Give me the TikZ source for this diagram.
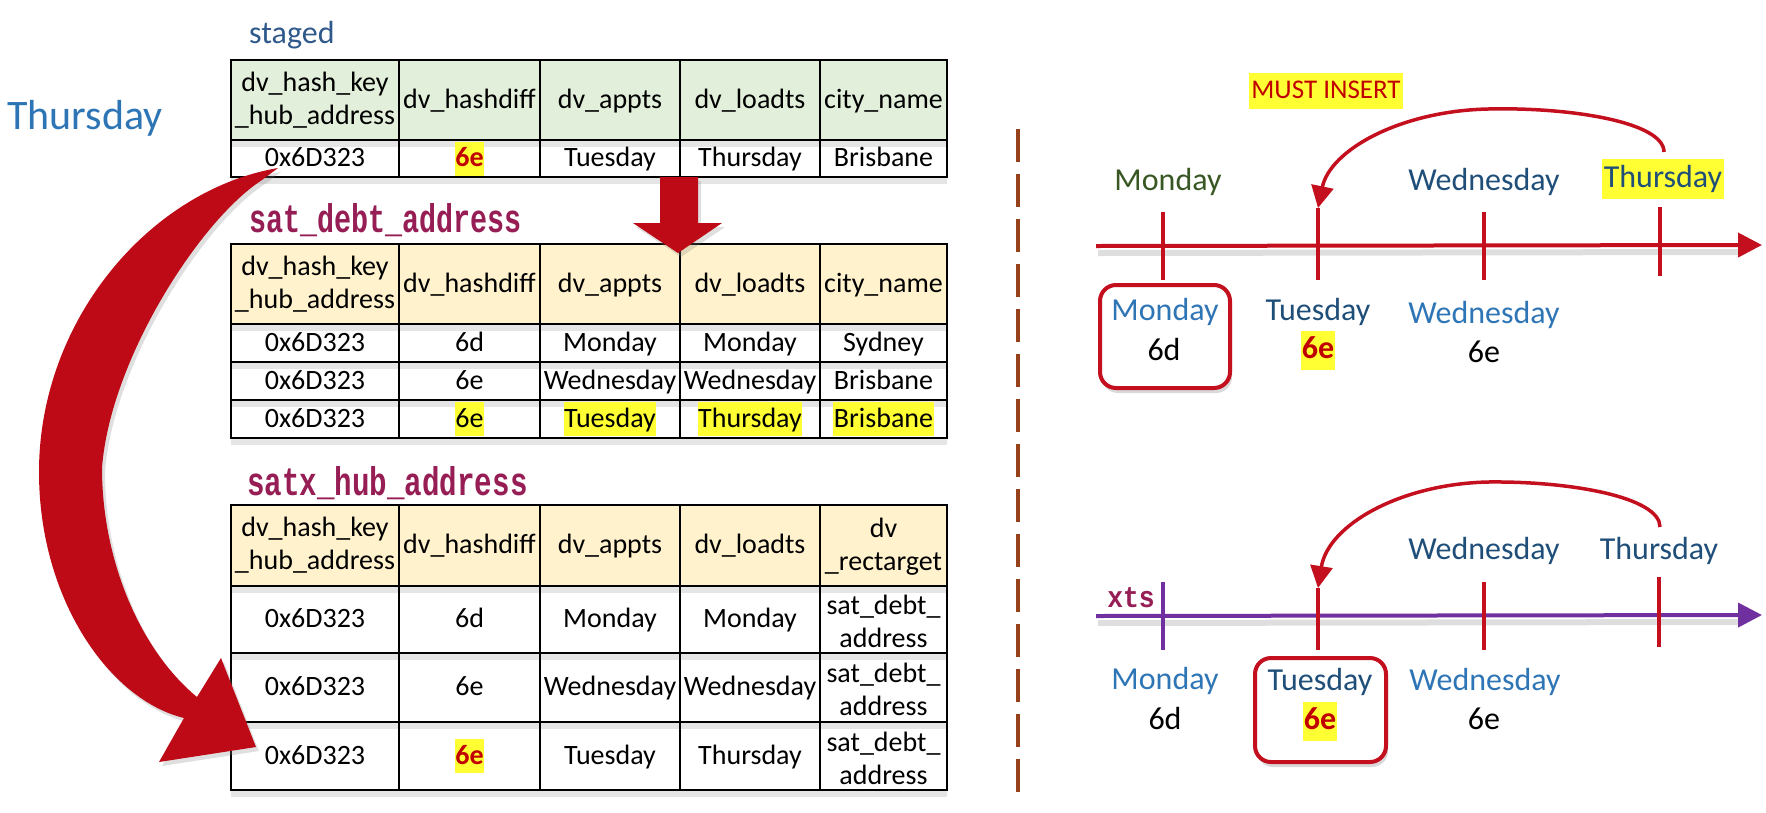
\documentclass[tikz,border=0pt]{standalone}
\usepackage{fontspec}
\usepackage{graphicx}
\setmainfont{Carlito}
\newfontfamily\twfont{Liberation Mono}
\usetikzlibrary{arrows.meta,shadows}
\definecolor{arrowred}{RGB}{190,10,22}
\definecolor{linered}{RGB}{195,15,30}
\definecolor{txtred}{RGB}{192,0,0}
\definecolor{hl}{RGB}{255,255,51}
\definecolor{greenfill}{RGB}{226,239,218}
\definecolor{goldfill}{RGB}{255,242,204}
\definecolor{titlemaroon}{RGB}{150,30,85}
\definecolor{stagedblue}{RGB}{46,89,138}
\definecolor{midblue}{RGB}{46,117,182}
\definecolor{darkblue}{RGB}{31,78,121}
\definecolor{olivegreen}{RGB}{56,87,35}
\definecolor{purp}{RGB}{112,48,160}
\definecolor{dashbrown}{RGB}{150,65,25}
\newcommand\myfs[2]{\fontsize{#1}{#2}\selectfont}
\tikzset{
  grid/.style={line width=2.5pt, black, line cap=rect},
  rowshadow/.style={black, opacity=0.10, line width=6pt},
  lineshadow/.style={black, opacity=0.13, line width=6pt},
  cell/.style={inner sep=0pt, font=\myfs{28}{33}, text height=19pt, text depth=3pt},
  cellii/.style={inner sep=0pt, font=\myfs{28}{33}, align=center},
  hlcell/.style={cell, fill=hl, inner xsep=0.5pt, text height=25pt, text depth=9pt},
  hlred/.style={hlcell, font=\bfseries\myfs{28}{33}, text=txtred},
  ttl/.style={anchor=base west, inner sep=0pt, text=titlemaroon, font=\twfont\bfseries\myfs{40}{40}},
  tl/.style={inner sep=0pt, font=\myfs{32}{38}, text height=23pt, text depth=8pt},
  tlhl/.style={tl, fill=hl, inner xsep=1.5pt, text height=28pt, text depth=12pt},
  tlred/.style={tl, fill=hl, inner xsep=1pt, font=\bfseries\myfs{32}{38}, text=txtred, text height=28pt, text depth=11pt},
  axis/.style={line width=4pt, -{Triangle[length=24pt,width=24pt]}},
  tick/.style={line width=4pt},
  curvearrow/.style={linered, line width=3.5pt, -{Triangle[length=22pt,width=22pt]}},
  rbox/.style={draw=linered, line width=4pt, rounded corners=16pt, fill=white, inner sep=0pt,
     drop shadow={opacity=0.3, shadow xshift=2pt, shadow yshift=-5pt}},
  blockshadow/.style={drop shadow={opacity=0.25, shadow xshift=3pt, shadow yshift=-4pt}},
}
\begin{document}
\begin{tikzpicture}[x=1pt,y=-1pt]
\useasboundingbox (0,0) rectangle (1766,812);

% ---------------- left labels
\node[inner sep=0pt, font=\myfs{42}{48}, text=midblue] (thu) at (85,118) {Thursday};
\node[anchor=base west, inner sep=0pt, font=\myfs{32}{38}, text=stagedblue] (stg) at (249,43) {staged};
\node[ttl] (sdt) at (249,232) {\scalebox{0.71}[1]{sat\_debt\_address}};
\node[ttl] (sxt) at (247,495) {\scalebox{0.73}[1]{satx\_hub\_address}};

% ---------------- staged table
\fill[greenfill] (231,60) rectangle (947,140);
\foreach \yy in {140,177} \draw[rowshadow] (231,\yy+4) -- (947,\yy+4);
\foreach \yy in {60,140,177} \draw[grid] (231,\yy) -- (947,\yy);
\foreach \xx in {231,399,540,680,820,947} \draw[grid] (\xx,60) -- (\xx,177);
\node[cellii] (st-h1) at (315,100) {dv\_hash\_key\\\_hub\_address};
\node[cell] (st-h2) at (469.5,100) {dv\_hashdiff};
\node[cell] (st-h3) at (610,100) {dv\_appts};
\node[cell] (st-h4) at (750,100) {dv\_loadts};
\node[cell] (st-h5) at (883.5,100) {city\_name};
\node[cell] (st-r1) at (315,158.5) {0x6D323};
\node[hlred] (st-r2) at (469.5,158.5) {6e};
\node[cell] (st-r3) at (610,158.5) {Tuesday};
\node[cell] (st-r4) at (750,158.5) {Thursday};
\node[cell] (st-r5) at (883.5,158.5) {Brisbane};

% ---------------- sat_debt_address table
\fill[goldfill] (231,244) rectangle (947,324);
\foreach \yy in {324,362,400,438} \draw[rowshadow] (231,\yy+4) -- (947,\yy+4);
\foreach \yy in {244,324,362,400,438} \draw[grid] (231,\yy) -- (947,\yy);
\foreach \xx in {231,399,540,680,820,947} \draw[grid] (\xx,244) -- (\xx,438);
\node[cellii] (sd-h1) at (315,284) {dv\_hash\_key\\\_hub\_address};
\node[cell] (sd-h2) at (469.5,284) {dv\_hashdiff};
\node[cell] (sd-h3) at (610,284) {dv\_appts};
\node[cell] (sd-h4) at (750,284) {dv\_loadts};
\node[cell] (sd-h5) at (883.5,284) {city\_name};
\node[cell] (sd-a1) at (315,343) {0x6D323};
\node[cell] (sd-a2) at (469.5,343) {6d};
\node[cell] (sd-a3) at (610,343) {Monday};
\node[cell] (sd-a4) at (750,343) {Monday};
\node[cell] (sd-a5) at (883.5,343) {Sydney};
\node[cell] (sd-b1) at (315,381) {0x6D323};
\node[cell] (sd-b2) at (469.5,381) {6e};
\node[cell] (sd-b3) at (610,381) {Wednesday};
\node[cell] (sd-b4) at (750,381) {Wednesday};
\node[cell] (sd-b5) at (883.5,381) {Brisbane};
\node[cell] (sd-c1) at (315,419) {0x6D323};
\node[hlcell] (sd-c2) at (469.5,419) {6e};
\node[hlcell] (sd-c3) at (610,419) {Tuesday};
\node[hlcell] (sd-c4) at (750,419) {Thursday};
\node[hlcell] (sd-c5) at (883.5,419) {Brisbane};

% ---------------- satx_hub_address table
\fill[goldfill] (231,505) rectangle (947,586);
\foreach \yy in {586,653,722,790} \draw[rowshadow] (231,\yy+4) -- (947,\yy+4);
\foreach \yy in {505,586,653,722,790} \draw[grid] (231,\yy) -- (947,\yy);
\foreach \xx in {231,399,540,680,820,947} \draw[grid] (\xx,505) -- (\xx,790);
\node[cellii] (sx-h1) at (315,545.5) {dv\_hash\_key\\\_hub\_address};
\node[cell] (sx-h2) at (469.5,545.5) {dv\_hashdiff};
\node[cell] (sx-h3) at (610,545.5) {dv\_appts};
\node[cell] (sx-h4) at (750,545.5) {dv\_loadts};
\node[cellii] (sx-h5) at (883.5,547) {dv\\\_rectarget};
\node[cell] (sx-a1) at (315,619.5) {0x6D323};
\node[cell] (sx-a2) at (469.5,619.5) {6d};
\node[cell] (sx-a3) at (610,619.5) {Monday};
\node[cell] (sx-a4) at (750,619.5) {Monday};
\node[cellii] (sx-a5) at (883.5,621) {sat\_debt\_\\address};
\node[cell] (sx-b1) at (315,687.5) {0x6D323};
\node[cell] (sx-b2) at (469.5,687.5) {6e};
\node[cell] (sx-b3) at (610,687.5) {Wednesday};
\node[cell] (sx-b4) at (750,687.5) {Wednesday};
\node[cellii] (sx-b5) at (883.5,689) {sat\_debt\_\\address};
\node[cell] (sx-c1) at (315,756) {0x6D323};
\node[hlred] (sx-c2) at (469.5,756) {6e};
\node[cell] (sx-c3) at (610,756) {Tuesday};
\node[cell] (sx-c4) at (750,756) {Thursday};
\node[cellii] (sx-c5) at (883.5,758) {sat\_debt\_\\address};

% ---------------- block arrows
\fill[arrowred, blockshadow] (660,177) -- (698,177) -- (698,223) -- (722,223) -- (678,253) -- (633,223) -- (660,223) -- cycle;
\fill[arrowred, blockshadow] (278,168) .. controls (150,190) and (39,320) .. (39,472)
   .. controls (39,600) and (110,700) .. (184,718)
   -- (159,762) -- (256,747) -- (221,658) -- (197,697)
   .. controls (140,650) and (102,560) .. (102,468)
   .. controls (110,360) and (200,220) .. (262,180) -- cycle;

% ---------------- divider
\draw[dashbrown, line width=3.5pt, dash pattern=on 33pt off 12pt] (1018,129) -- (1018,800);

% ---------------- top timeline
\node[tl, fill=hl, inner xsep=2pt, font=\myfs{27}{32}, text=txtred, text height=25pt, text depth=11pt] (must) at (1326,91) {MUST INSERT};
\coordinate (ta0) at (1096,246);
\coordinate (ta1) at (1762,245);
\draw[lineshadow] (1098,253) -- (1738,252);
\draw[axis, linered] (ta0) -- (ta1);
\coordinate (t1a) at (1163,212); \coordinate (t1b) at (1163,280);
\coordinate (t2a) at (1318,208); \coordinate (t2b) at (1318,280);
\coordinate (t3a) at (1484,212); \coordinate (t3b) at (1484,280);
\coordinate (t4a) at (1660,207); \coordinate (t4b) at (1660,276);
\draw[tick, linered] (t1a) -- (t1b);
\draw[tick, linered] (t2a) -- (t2b);
\draw[tick, linered] (t3a) -- (t3b);
\draw[tick, linered] (t4a) -- (t4b);
\node[tl, text=olivegreen] (mon1) at (1168,183) {Monday};
\node[tl, text=darkblue] (wed1) at (1484,183) {Wednesday};
\node[tlhl, text=darkblue] (thu1) at (1663,179) {Thursday};
\coordinate (thu1s) at (1664,152);
\draw[curvearrow] (thu1s) .. controls (1664,122) and (1570,107) .. (1488,109)
   .. controls (1400,111) and (1330,150) .. (t2a);
\node[rbox, minimum width=130pt, minimum height=103pt] (box1) at (1165,336.5) {};
\node[tl, text=midblue] (mon1b) at (1165,313) {Monday};
\node[tl] (d1) at (1164,353) {6d};
\node[tl, text=darkblue] (tue1b) at (1318,313) {Tuesday};
\node[tlred] (e1) at (1318,350) {6e};
\node[tl, text=midblue] (wed1b) at (1484,316) {Wednesday};
\node[tl] (e1w) at (1484,355) {6e};

% ---------------- bottom timeline
\coordinate (ba0) at (1096,616);
\coordinate (ba1) at (1762,615);
\draw[lineshadow] (1098,623) -- (1738,622);
\draw[axis, purp] (ba0) -- (ba1);
\node[anchor=base east, inner sep=0pt, text=titlemaroon, font=\twfont\bfseries\myfs{30}{30}] (xts) at (1155,607) {\scalebox{0.88}[1]{xts}};
\coordinate (b1a) at (1163,582); \coordinate (b1b) at (1163,650);
\coordinate (b2a) at (1318,588); \coordinate (b2b) at (1318,650);
\coordinate (b3a) at (1484,582); \coordinate (b3b) at (1484,650);
\coordinate (b4a) at (1659,577); \coordinate (b4b) at (1659,647);
\draw[tick, purp] (b1a) -- (b1b);
\draw[tick, linered] (b2a) -- (b2b);
\draw[tick, linered] (b3a) -- (b3b);
\draw[tick, linered] (b4a) -- (b4b);
\node[tl, text=darkblue] (wed2) at (1484,552) {Wednesday};
\node[tl, text=darkblue] (thu2) at (1659,552) {Thursday};
\coordinate (thu2s) at (1660,527);
\draw[curvearrow] (thu2s) .. controls (1660,497) and (1570,481) .. (1488,482)
   .. controls (1400,484) and (1328,525) .. (b2a);
\node[rbox, minimum width=131pt, minimum height=104pt] (box2) at (1320.5,710) {};
\node[tl, text=midblue] (mon2b) at (1165,682) {Monday};
\node[tl] (d2) at (1165,722) {6d};
\node[tl, text=darkblue] (tue2b) at (1320,683) {Tuesday};
\node[tlred] (e2) at (1320,721) {6e};
\node[tl, text=midblue] (wed2b) at (1485,683) {Wednesday};
\node[tl] (e2w) at (1484,722) {6e};
\end{tikzpicture}
\end{document}
